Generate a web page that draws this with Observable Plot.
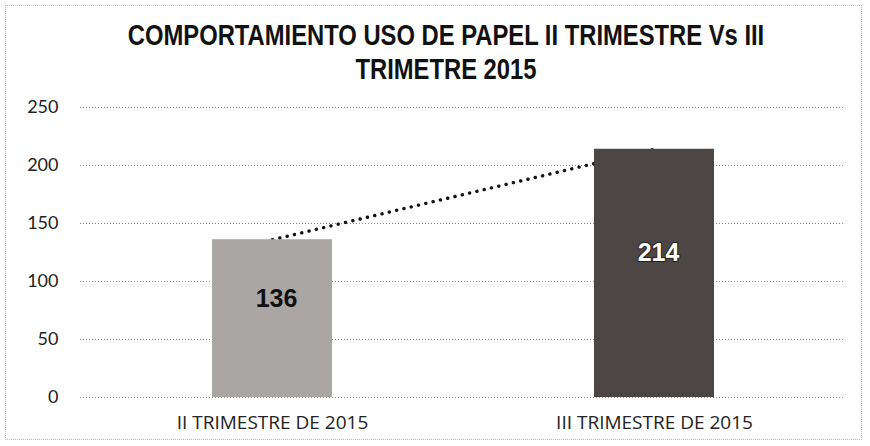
<!DOCTYPE html>
<html>
<head>
<meta charset="utf-8">
<script src="https://cdn.jsdelivr.net/npm/d3@7"></script>
<script src="https://cdn.jsdelivr.net/npm/@observablehq/plot@0.6"></script>
<style>
  html, body { margin: 0; padding: 0; background: #fff; }
  #frame {
    position: relative; width: 870px; height: 446px; box-sizing: border-box;
    overflow: hidden; background: #fff;
  }
  #border {
    position: absolute; left: 5px; top: 5px; width: 857px; height: 435px; z-index: 5;
    box-sizing: border-box; border: 1px dotted #b8b8b8; pointer-events: none;
  }
  #title {
    position: absolute; left: 446px; top: 18px; white-space: nowrap; text-align: center;
    transform: translateX(-50%) scaleX(0.82); transform-origin: center top;
    font-family: "Liberation Sans", Arial, sans-serif;
    font-weight: bold; font-size: 29px; line-height: 34px; color: #111;
  }
  #chart { position: absolute; left: 0; top: 90px; }
</style>
</head>
<body>
<div id="frame">
  <div id="title">COMPORTAMIENTO USO DE PAPEL II TRIMESTRE Vs III<br>TRIMETRE 2015</div>
  <div id="chart"></div>
  <div id="border"></div>
</div>
<script>
const categories = ["II TRIMESTRE DE 2015", "III TRIMESTRE DE 2015"];
const values = [136, 214];
const yTicks = [0, 50, 100, 150, 200, 250];

const data = categories.map((c, i) => ({category: c, value: values[i]}));

const plot = Plot.plot({
  width: 870,
  height: 356,
  marginLeft: 80,
  marginRight: 25,
  marginTop: 17,
  marginBottom: 49,
  x: {domain: categories, padding: 0, label: null},
  y: {domain: [0, 250], label: null},
  color: {domain: categories, range: ["#a9a6a4", "#4c4644"]},
  style: {fontFamily: "Lato, 'Open Sans', sans-serif", fontSize: "18px", color: "#222", background: "#fff"},
  marks: [
    Plot.ruleY(yTicks, {stroke: "#8a8a8a", strokeWidth: 1, strokeDasharray: "1,2"}),
    Plot.axisY({ticks: yTicks, tickSize: 0, tickPadding: 22, label: null,
      fontFamily: "Lato, sans-serif", fontSize: 18}),
    Plot.axisX({tickSize: 0, tickPadding: 18, label: null,
      fontFamily: "'Open Sans', sans-serif", fontSize: 19}),
    Plot.line(data, {x: "category", y: "value", stroke: "#111", strokeWidth: 3.4,
      strokeDasharray: "0.1,7.4", strokeLinecap: "round"}),
    Plot.barY(data, {x: "category", y: "value", fill: "category", insetLeft: 131, insetRight: 131}),
    Plot.text(data, {x: "category", y: d => d.value / 2, text: d => String(d.value), dy: -20, dx: 4,
      fontFamily: "'Liberation Sans', Arial, sans-serif", fontWeight: "bold", fontSize: 25,
      fill: (d, i) => i === 0 ? "#111" : "#fff",
      stroke: (d, i) => i === 0 ? "none" : "#222", strokeWidth: 2, paintOrder: "stroke"})
  ]
});
document.getElementById("chart").appendChild(plot);
</script>
</body>
</html>
